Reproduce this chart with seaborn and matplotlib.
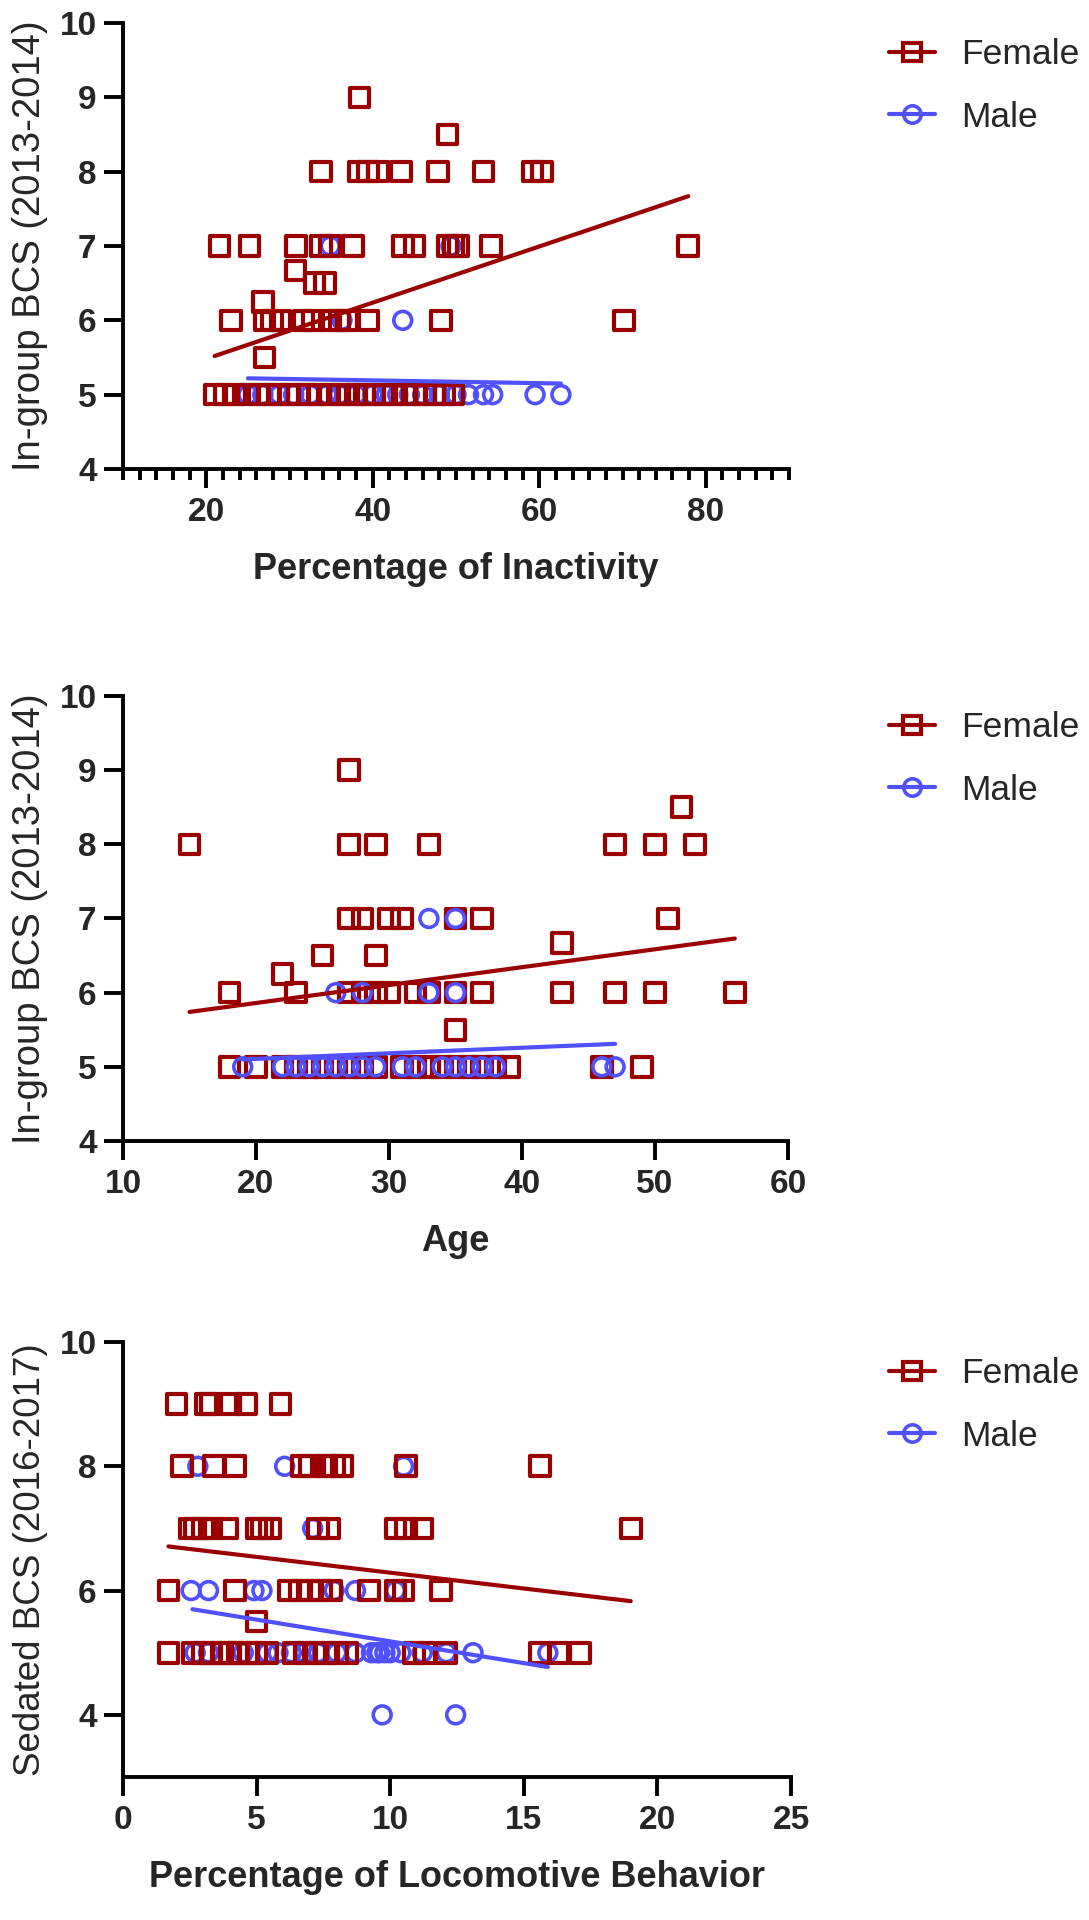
import numpy as np
import pandas as pd
import matplotlib
matplotlib.use("Agg")
import matplotlib.pyplot as plt
import seaborn as sns
from matplotlib.lines import Line2D
from matplotlib.ticker import MultipleLocator, FixedLocator

# ---------------- data ----------------
# Panel 1: Percentage of Inactivity vs In-group BCS (2013-2014)
inact_female_x = [38.4,
                  49.0,
                  33.8, 38.3, 39.4, 40.6, 43.4, 47.8, 53.3, 59.2, 60.3,
                  21.6, 25.2, 30.8, 33.8, 34.9, 37.6, 43.6, 45.0, 49.0, 49.7, 50.3, 54.2, 77.9,
                  30.7,
                  33.0, 34.3,
                  26.8,
                  23.0, 27.0, 27.9, 28.9, 31.7, 32.8, 34.9, 36.0, 36.9, 39.5, 48.2, 70.2,
                  27.0,
                  21.0, 22.2, 23.5, 25.0, 26.3, 27.5, 28.6, 30.0, 31.0, 32.2, 33.5, 34.8, 36.0,
                  37.0, 38.0, 39.0, 40.2, 41.3, 42.5, 44.0, 45.2, 46.3, 47.4, 48.6, 49.7]
inact_female_y = ([9] + [8.5] + [8] * 9 + [7] * 13 + [6.67] + [6.5] * 2 + [6.25]
                  + [6] * 12 + [5.5] + [5] * 25)
inact_male_x = [34.9, 49.4,
                36.3, 43.6,
                25.0, 26.8, 28.8, 30.5, 32.5, 34.5, 36.0, 38.0, 40.0, 41.6, 43.0, 44.4,
                46.0, 48.0, 50.0, 51.5, 53.3, 54.4, 59.5, 62.6]
inact_male_y = [7] * 2 + [6] * 2 + [5] * 20
inact_female_fit_x = [21.0, 77.9]
inact_female_fit_y = [5.52, 7.67]
inact_male_fit_x = [25.0, 62.6]
inact_male_fit_y = [5.22, 5.15]

# Panel 2: Age vs In-group BCS (2013-2014)
age_female_x = [27,
                52,
                15, 27, 29, 33, 47, 50, 53,
                27, 28, 30, 31, 35, 37, 51,
                43,
                25, 29,
                22,
                18, 23, 27, 28, 29, 30, 32, 33, 35, 37, 43, 47, 50, 56,
                35,
                18, 20, 22, 23, 24, 25, 26, 27, 28, 29, 31, 32, 33, 34, 35, 36, 37, 38, 39, 46, 49]
age_female_y = ([9] + [8.5] + [8] * 7 + [7] * 7 + [6.67] + [6.5] * 2 + [6.25]
                + [6] * 14 + [5.5] + [5] * 21)
age_male_x = [33, 35,
              26, 28, 33, 35,
              19, 22, 23, 24, 25, 26, 27, 28, 29, 31, 32, 34, 35, 36, 37, 38, 46, 47]
age_male_y = [7] * 2 + [6] * 4 + [5] * 18
age_female_fit_x = [15, 56]
age_female_fit_y = [5.74, 6.73]
age_male_fit_x = [19, 47]
age_male_fit_y = [5.10, 5.31]

# Panel 3: Percentage of Locomotive Behavior vs Sedated BCS (2016-2017)
loco_female_x = [2.0, 3.1, 3.3, 4.0, 4.6, 5.9,
                 2.2, 3.4, 4.2, 6.7, 7.0, 7.6, 7.9, 8.2, 10.6, 15.6,
                 2.5, 2.7, 3.0, 3.3, 3.9, 5.0, 5.2, 5.5, 7.3, 7.7, 10.2, 10.6, 11.2, 19.0,
                 1.7, 4.2, 6.2, 6.6, 7.0, 7.4, 7.8, 9.2, 10.2, 10.5, 11.9,
                 5.0,
                 1.7, 2.6, 3.0, 3.3, 3.7, 4.0, 4.3, 4.7, 5.0, 5.4, 6.4, 6.8, 7.2, 7.6, 8.0,
                 8.4, 10.9, 11.3, 12.1, 15.6, 16.3, 17.1]
loco_female_y = [9] * 6 + [8] * 10 + [7] * 14 + [6] * 11 + [5.5] + [5] * 22
loco_male_x = [2.8, 6.05, 10.5,
               7.1,
               2.55, 3.2, 4.9, 5.2, 7.9, 8.7, 10.2,
               2.7, 3.2, 4.5, 5.4, 5.8, 6.3, 6.8, 7.3, 8.0, 8.7, 9.3, 9.5, 9.6, 9.8, 10.0,
               10.4, 11.2, 12.1, 13.1, 15.9,
               9.7, 12.45]
loco_male_y = [8] * 3 + [7] + [6] * 7 + [5] * 20 + [4] * 2
loco_female_fit_x = [1.7, 19.0]
loco_female_fit_y = [6.71, 5.83]
loco_male_fit_x = [2.6, 15.9]
loco_male_fit_y = [5.70, 4.77]

groups = ["Female", "Male"]
colors = {"Female": "#9A0000", "Male": "#5050FF"}

# ---------------- style ----------------
sns.set_style("ticks")
plt.rcParams["font.family"] = ["Liberation Sans", "DejaVu Sans"]

W, H = 1089, 1920
fig = plt.figure(figsize=(W / 100, H / 100), dpi=100)


def axes_px(left, top, right, bottom):
    return fig.add_axes([left / W, 1 - bottom / H, (right - left) / W, (bottom - top) / H])


panels = [
    dict(ax=axes_px(123, 23, 789, 469),
         fx=inact_female_x, fy=inact_female_y, mx=inact_male_x, my=inact_male_y,
         ffx=inact_female_fit_x, ffy=inact_female_fit_y,
         mfx=inact_male_fit_x, mfy=inact_male_fit_y,
         xlim=(10, 90), xticks=[20, 40, 60, 80], minor=2,
         ylim=(4, 10), yticks=[4, 5, 6, 7, 8, 9, 10],
         xlabel="Percentage of Inactivity", ylabel="In-group BCS (2013-2014)",
         male_top=False, leg_y=86, ylab_fs=27.5),
    dict(ax=axes_px(123, 696, 788, 1141),
         fx=age_female_x, fy=age_female_y, mx=age_male_x, my=age_male_y,
         ffx=age_female_fit_x, ffy=age_female_fit_y,
         mfx=age_male_fit_x, mfy=age_male_fit_y,
         xlim=(10, 60), xticks=[10, 20, 30, 40, 50, 60], minor=None,
         ylim=(4, 10), yticks=[4, 5, 6, 7, 8, 9, 10],
         xlabel="Age", ylabel="In-group BCS (2013-2014)",
         male_top=True, leg_y=759, ylab_fs=27.5),
    dict(ax=axes_px(123, 1342, 791, 1777),
         fx=loco_female_x, fy=loco_female_y, mx=loco_male_x, my=loco_male_y,
         ffx=loco_female_fit_x, ffy=loco_female_fit_y,
         mfx=loco_male_fit_x, mfy=loco_male_fit_y,
         xlim=(0, 25), xticks=[0, 5, 10, 15, 20, 25], minor=None,
         ylim=(3, 10), yticks=[4, 6, 8, 10],
         xlabel="Percentage of Locomotive Behavior", ylabel="Sedated BCS (2016-2017)",
         male_top=False, leg_y=1405, ylab_fs=26.5),
]

SQ_S, CI_S = 200, 165
SQ_LW, CI_LW = 3.0, 2.6
FIT_LW = 3.0
AX_LW = 2.8

for p in panels:
    ax = p["ax"]
    fem = pd.DataFrame({"x": p["fx"], "y": p["fy"]})
    mal = pd.DataFrame({"x": p["mx"], "y": p["my"]})

    def draw_f(z):
        sns.scatterplot(data=fem, x="x", y="y", marker="s", s=SQ_S,
                        facecolor="none", edgecolor=colors["Female"],
                        linewidth=SQ_LW, ax=ax, zorder=z, legend=False)

    def draw_m(z):
        sns.scatterplot(data=mal, x="x", y="y", marker="o", s=CI_S,
                        facecolor="none", edgecolor=colors["Male"],
                        linewidth=CI_LW, ax=ax, zorder=z, legend=False)

    if p["male_top"]:
        draw_f(3); draw_m(4)
    else:
        draw_m(3); draw_f(4)

    sns.lineplot(x=p["ffx"], y=p["ffy"], color=colors["Female"], lw=FIT_LW,
                 estimator=None, ax=ax, zorder=5)
    sns.lineplot(x=p["mfx"], y=p["mfy"], color=colors["Male"], lw=FIT_LW,
                 estimator=None, ax=ax, zorder=5)

    ax.set_xlim(*p["xlim"])
    ax.set_ylim(*p["ylim"])
    ax.xaxis.set_major_locator(FixedLocator(p["xticks"]))
    ax.yaxis.set_major_locator(FixedLocator(p["yticks"]))
    if p["minor"]:
        ax.xaxis.set_minor_locator(MultipleLocator(p["minor"]))
    sns.despine(ax=ax)
    for s in ["left", "bottom"]:
        ax.spines[s].set_linewidth(AX_LW)
        ax.spines[s].set_color("black")
    ax.tick_params(axis="both", which="major", direction="out", length=14,
                   width=AX_LW, color="black", labelsize=24, pad=5)
    ax.tick_params(axis="x", which="major", pad=6)
    ax.tick_params(axis="x", which="minor", direction="out", length=8,
                   width=AX_LW, color="black")
    for lab in ax.get_xticklabels() + ax.get_yticklabels():
        lab.set_fontweight("bold")

    ax_h_px = ax.get_position().height * H
    ax_w_px = ax.get_position().width * W
    ax.set_xlabel(p["xlabel"], fontsize=26, fontweight="bold")
    ax.xaxis.label.set_va("baseline")
    ax.xaxis.set_label_coords(0.5, -110 / ax_h_px)
    ax.set_ylabel(p["ylabel"], fontsize=p["ylab_fs"])
    ax.yaxis.label.set_va("baseline")
    ax.yaxis.set_label_coords(-(123 - 40) / ax_w_px, 0.5)

    handles = [
        Line2D([0], [0], color=colors["Female"], lw=FIT_LW, marker="s", ms=13,
               mfc="none", mec=colors["Female"], mew=SQ_LW),
        Line2D([0], [0], color=colors["Male"], lw=FIT_LW, marker="o", ms=12.5,
               mfc="none", mec=colors["Male"], mew=CI_LW),
    ]
    fig.legend(handles, groups, loc="center left",
               bbox_to_anchor=(889 / W, 1 - p["leg_y"] / H),
               frameon=False, fontsize=25.5, handlelength=1.3,
               handletextpad=0.75, labelspacing=0.83, borderpad=0,
               borderaxespad=0)

fig.savefig("out.png", dpi=100)
